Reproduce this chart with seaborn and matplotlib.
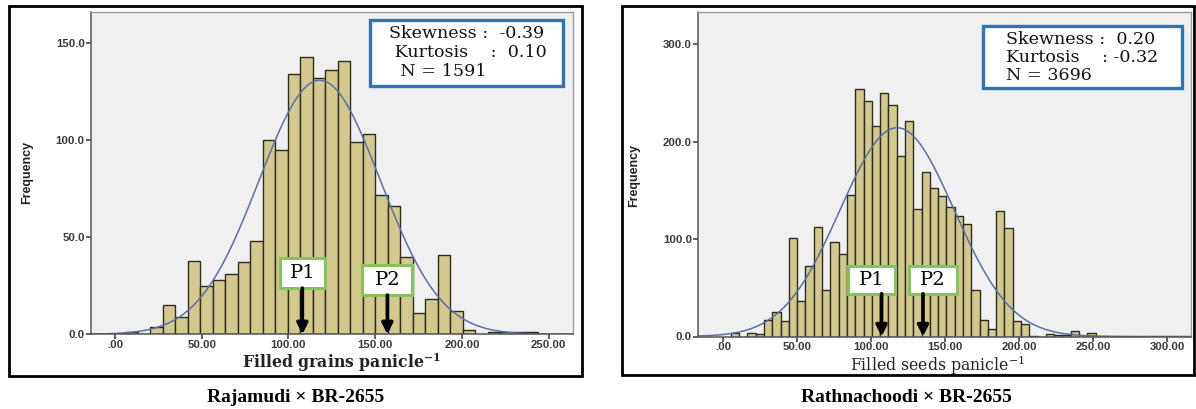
import numpy as np
import pandas as pd
import matplotlib
matplotlib.use("Agg")
import matplotlib.pyplot as plt
import seaborn as sns
from matplotlib.patches import Rectangle
from matplotlib.ticker import FuncFormatter

# Rajamudi x BR-2655 : filled grains per panicle (bin counts)
left_bin_start = 6.0
left_bin_width = 7.2
left_counts = [1, 0, 4, 15, 9, 38, 25, 28, 31, 37, 48, 100, 95, 134, 143, 132, 136,
               141, 99, 103, 72, 66, 40, 11, 18, 41, 12, 2, 0, 1, 1, 1, 1]
left_stats = ["Skewness :  -0.39", " Kurtosis    :  0.10", "  N = 1591"]
left_n = 1591
left_parents = ["P1", "P2"]
left_parent_x = [108, 157]

# Rathnachoodi x BR-2655 : filled seeds per panicle
right_bin_start = 5.2
right_bin_width = 5.6
right_counts = [4, 0, 4, 3, 17, 25, 16, 101, 36, 72, 112, 48, 97, 85, 145, 254, 242,
                216, 250, 238, 185, 221, 131, 169, 152, 144, 133, 124, 115, 48, 17, 8,
                129, 111, 16, 13, 1, 0, 3, 2, 2, 6, 0, 4]
right_stats = ["Skewness :  0.20", "Kurtosis    : -0.32", "N = 3696"]
right_n = 3696
right_parents = ["P1", "P2"]
right_parent_x = [107, 135]

captions = ["Rajamudi × BR-2655", "Rathnachoodi × BR-2655"]
xlabels = ["Filled grains panicle", "Filled seeds panicle"]

sns.set_style("white")
plt.rcParams["font.family"] = ["Liberation Sans", "DejaVu Sans"]
plt.rcParams["mathtext.fontset"] = "dejavuserif"

W, H = 1196, 409
fig = plt.figure(figsize=(W / 100, H / 100), dpi=100)


def fx(px):
    return px / W


def fy(py):
    return 1 - py / H


def frame(x0, y0, x1, y1, **kw):
    fig.add_artist(Rectangle((fx(x0), fy(y1)), (x1 - x0) / W, (y1 - y0) / H,
                             transform=fig.transFigure, **kw))


bar_color = "#d3c98f"
curve_color = "#5a6ea8"


def panel(ax, start, width, counts, n, xlim, ylim, yticks, xticks):
    counts = np.array(counts, dtype=float)
    edges = start + width * np.arange(len(counts) + 1)
    centers = (edges[:-1] + edges[1:]) / 2
    df = pd.DataFrame({"value": centers, "count": counts})
    sns.histplot(data=df, x="value", weights="count", bins=list(edges), ax=ax,
                 color=bar_color, edgecolor="#2b2b1e", linewidth=1.0, alpha=1)
    mean = np.average(centers, weights=counts)
    sd = np.sqrt(np.average((centers - mean) ** 2, weights=counts))
    xs = np.linspace(xlim[0], xlim[1], 400)
    ys = n * width * np.exp(-0.5 * ((xs - mean) / sd) ** 2) / (sd * np.sqrt(2 * np.pi))
    ax.plot(xs, ys, color=curve_color, lw=1.1)
    ax.set_xlim(*xlim)
    ax.set_ylim(*ylim)
    ax.set_facecolor("#f0f0f0")
    ax.set_xlabel("")
    ax.set_ylabel("")
    ax.set_yticks(yticks)
    ax.set_xticks(xticks)
    ax.yaxis.set_major_formatter(FuncFormatter(lambda v, p: f"{v:.1f}"))
    ax.xaxis.set_major_formatter(
        FuncFormatter(lambda v, p: f"{v:.2f}".lstrip("0") if v == 0 else f"{v:.2f}"))
    ax.tick_params(axis="both", which="both", direction="out", length=3.5, width=1.2,
                   color="#444444", labelsize=8.2, labelcolor="#3a3a3a", pad=0.8,
                   bottom=True, left=True)
    for lab in ax.get_xticklabels() + ax.get_yticklabels():
        lab.set_fontweight("bold")
    for side in ["left", "bottom"]:
        ax.spines[side].set_color("#555555")
        ax.spines[side].set_linewidth(1.1)
    for side in ["top", "right"]:
        ax.spines[side].set_color("#9a9a9a")
        ax.spines[side].set_linewidth(1.0)


def parents(ax, labels, xs, boxes):
    for lab, x, (bx0, bx1, by0, by1) in zip(labels, xs, boxes):
        ax.add_patch(Rectangle((bx0, by0), bx1 - bx0, by1 - by0, facecolor="white",
                               edgecolor="#86c35a", lw=2.2, zorder=5))
        ax.text((bx0 + bx1) / 2, (by0 + by1) / 2, lab, ha="center", va="center",
                fontsize=14, family="DejaVu Serif", color="black", zorder=6)
        ax.annotate("", xy=(x, 0), xytext=(x, by0),
                    arrowprops=dict(arrowstyle="-|>", color="black", lw=2.6,
                                    mutation_scale=16, shrinkA=0, shrinkB=0),
                    zorder=6)


# left panel
frame(9, 6, 581.7, 375.5, fill=False, lw=2, ec="black")
ax_l = fig.add_axes([fx(90.7), fy(334.3), (573 - 90.7) / W, (334.3 - 12) / H])
panel(ax_l, left_bin_start, left_bin_width, left_counts, left_n,
      (-14, 264), (0, 166), [0, 50, 100, 150], [0, 50, 100, 150, 200, 250])
parents(ax_l, left_parents, left_parent_x,
        [(95.2, 121.2, 23.8, 39.3), (142.5, 171.4, 20.2, 35.7)])

# right panel
frame(621.7, 6, 1194, 375.4, fill=False, lw=2, ec="black")
ax_r = fig.add_axes([fx(698), fy(336.5), (1191 - 698) / W, (336.5 - 12) / H])
panel(ax_r, right_bin_start, right_bin_width, right_counts, right_n,
      (-17, 316), (0, 333), [0, 100, 200, 300], [0, 50, 100, 150, 200, 250, 300])
parents(ax_r, right_parents, right_parent_x,
        [(84.3, 116, 43.9, 72.6), (125.5, 157.9, 43.9, 72.6)])

# statistics boxes
frame(370, 19.5, 563, 86, facecolor="white", edgecolor="#2e75b6", lw=2.4, zorder=10)
for i, line in enumerate(left_stats):
    fig.text(fx(389), fy(33 + 19.5 * i), line, ha="left", va="center", fontsize=12.6,
             family="DejaVu Serif", color="#111111", zorder=11)
frame(983, 26, 1182, 88, facecolor="white", edgecolor="#2e75b6", lw=2.4, zorder=10)
for i, line in enumerate(right_stats):
    fig.text(fx(1006), fy(40 + 18 * i), line, ha="left", va="center", fontsize=12.6,
             family="DejaVu Serif", color="#111111", zorder=11)

# axis titles and captions
for x, y in [(27, 172), (634, 175)]:
    fig.text(fx(x), fy(y), "Frequency", rotation=90, ha="center", va="center",
             fontsize=9, fontweight="bold", color="#222222")
for x, y, lab, wt in zip([342, 938], [368, 371], xlabels, ["bold", "normal"]):
    sup = r"$^{\mathbf{-1}}$" if wt == "bold" else r"$^{-1}$"
    fig.text(fx(x), fy(y), lab + sup, ha="center", va="baseline",
             fontsize=11.3, fontweight=wt, family="DejaVu Serif", color="#222222")
for x, cap in zip([296, 906], captions):
    fig.text(fx(x), fy(401.5), cap, ha="center", va="baseline", fontsize=14,
             fontweight="bold", family="Liberation Serif", color="black")

fig.savefig("out.png", dpi=100)
